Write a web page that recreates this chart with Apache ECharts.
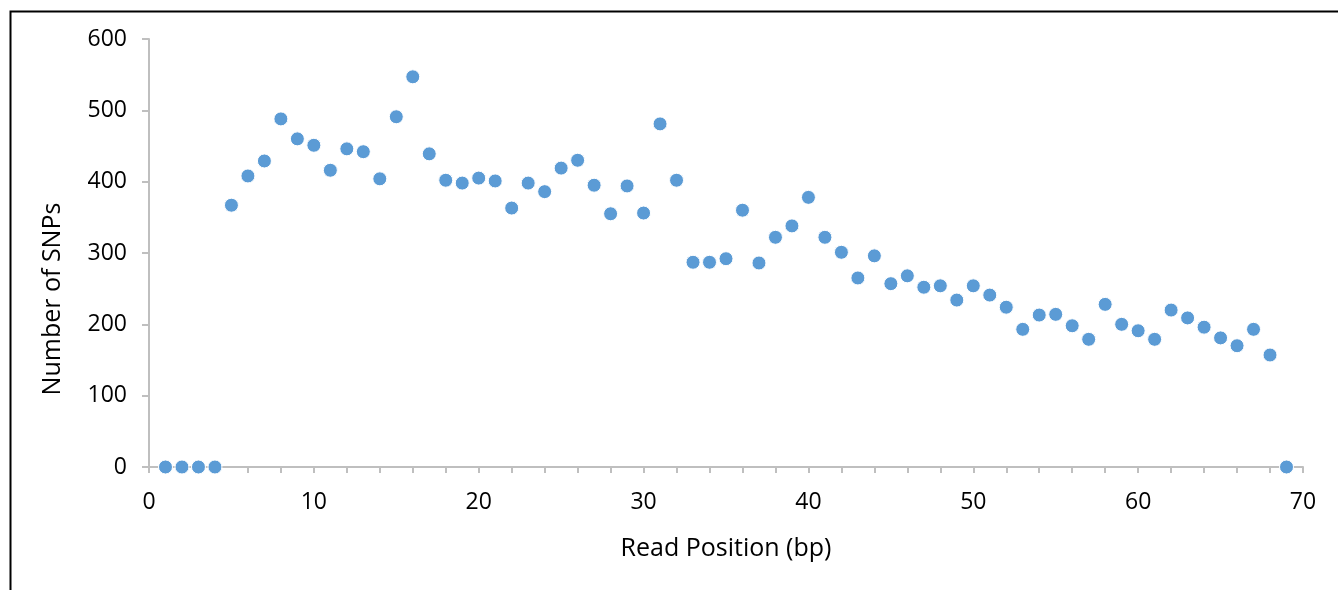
<!DOCTYPE html>
<html>
<head>
<meta charset="utf-8">
<script src="https://cdn.jsdelivr.net/npm/echarts@6/dist/echarts.min.js"></script>
<style>
  html, body { margin: 0; padding: 0; background: #fff; }
  #main { width: 1338px; height: 590px; }
</style>
</head>
<body>
<div id="main"></div>
<script>
// read position (bp) and SNP count per position
var positions = [];
for (var i = 1; i <= 69; i++) positions.push(i);
var snpCounts = [
  0, 0, 0, 0, 367, 408, 429, 488, 460, 451,
  416, 446, 442, 404, 491, 547, 439, 402, 398, 405,
  401, 363, 398, 386, 419, 430, 395, 355, 394, 356,
  481, 402, 287, 287, 292, 360, 286, 322, 338, 378,
  322, 301, 265, 296, 257, 268, 252, 254, 234, 254,
  241, 224, 193, 213, 214, 198, 179, 228, 200, 191,
  179, 220, 209, 196, 181, 170, 193, 157, 0
];
var xLabels = [0, 10, 20, 30, 40, 50, 60, 70];
var yLabels = [0, 100, 200, 300, 400, 500, 600];

var chart = echarts.init(document.getElementById("main"), null, { renderer: "canvas" });
var font = "Open Sans";
var axisGray = "#bfbfbf";

var option = {
  animation: false,
  textStyle: { fontFamily: font },
  graphic: [
    {
      type: "rect",
      left: 8,
      top: 9,
      shape: { width: 1400, height: 700 },
      style: { fill: "none", stroke: "#000", lineWidth: 2 },
      silent: true
    }
  ],
  grid: { left: 149, right: 35, top: 39, bottom: 123 },
  xAxis: {
    type: "value",
    min: 0,
    max: 70,
    interval: 2,
    name: "Read Position (bp)",
    nameLocation: "middle",
    nameGap: 69,
    nameTextStyle: { color: "#000", fontSize: 25, fontFamily: font },
    axisLine: { show: true, lineStyle: { color: axisGray, width: 2 } },
    axisTick: { show: true, length: 6, lineStyle: { color: axisGray, width: 2 } },
    splitLine: { show: false },
    axisLabel: {
      color: "#000",
      fontSize: 23,
      margin: 24,
      formatter: function (v) {
        return xLabels.indexOf(v) >= 0 ? String(v) : "";
      }
    }
  },
  yAxis: {
    type: "value",
    min: 0,
    max: 600,
    interval: 100,
    name: "Number of SNPs",
    nameLocation: "middle",
    nameGap: 84,
    nameTextStyle: { color: "#000", fontSize: 25, fontFamily: font, padding: [0, 92, 0, 0] },
    axisLine: { show: true, lineStyle: { color: axisGray, width: 2 } },
    axisTick: { show: true, length: 7, lineStyle: { color: axisGray, width: 2 } },
    splitLine: { show: false },
    axisLabel: {
      color: "#000",
      fontSize: 23,
      margin: 22,
      formatter: function (v) {
        return yLabels.indexOf(v) >= 0 ? String(v) : "";
      }
    }
  },
  series: [
    {
      type: "scatter",
      symbol: "circle",
      symbolSize: 14,
      data: positions.map(function (p, k) { return [p, snpCounts[k]]; }),
      itemStyle: { color: "#5b9bd5", opacity: 1, borderColor: "#ffffff", borderWidth: 1 }
    }
  ]
};
chart.setOption(option);
</script>
</body>
</html>
